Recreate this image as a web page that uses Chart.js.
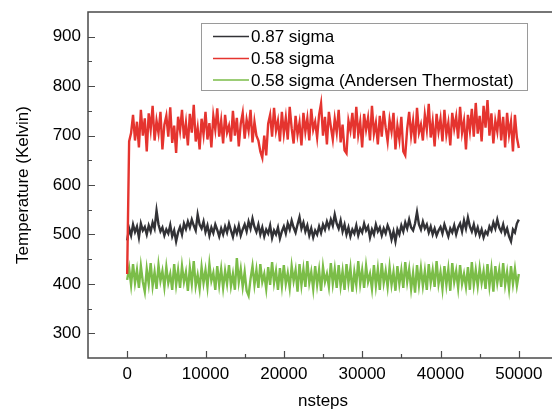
<!DOCTYPE html>
<html>
<head>
<meta charset="utf-8">
<script src="https://cdn.jsdelivr.net/npm/chart.js@4/dist/chart.umd.min.js"></script>
<style>
    html, body { margin: 0; padding: 0; background: #fff; overflow: hidden; }
    #wrap { width: 560px; height: 410px; }
</style>
</head>
<body>
<div id="wrap"><canvas id="temp-chart" width="560" height="410"></canvas></div>
<script>
// sampling interval of the runs (nsteps between stored points)
const stepEvery = 250;

const seriesLabels = ['0.87 sigma', '0.58 sigma', '0.58 sigma (Andersen Thermostat)'];
const seriesColors = ['#323236', '#e5342f', '#7bbd48'];

const temp087 = [
    488, 512, 498, 520, 505, 516, 494, 522, 508, 515,
    500, 518, 506, 524, 512, 548, 520, 506, 514, 498,
    510, 502, 519, 496, 508, 486, 504, 515, 500, 522,
    511, 526, 514, 530, 518, 508, 540, 520, 512, 526,
    505, 518, 498, 514, 503, 520, 509, 496, 512, 500,
    516, 504, 522, 508, 495, 514, 502, 518, 498, 510,
    520, 506, 526, 512, 532, 515, 505, 520, 500, 514,
    496, 510, 502, 518, 493, 508, 500, 514, 492, 506,
    516, 502, 522, 510, 528, 514, 504, 520, 535, 512,
    524, 506, 518, 498, 512, 494, 508, 500, 516, 503,
    520, 510, 526, 514, 530, 518, 540, 522, 512, 528,
    506, 520, 500, 514, 496, 510, 502, 518, 498, 512,
    504, 522, 508, 516, 494, 510, 500, 520, 506, 514,
    498, 512, 502, 518, 508, 490, 506, 486, 510, 500,
    518, 506, 524, 512, 530, 514, 508, 522, 545, 520,
    510, 526, 512, 520, 504, 516, 500, 512, 498, 508,
    515, 502, 520, 508, 496, 512, 504, 518, 500, 514,
    522, 506, 528, 512, 534, 516, 506, 520, 502, 514,
    498, 510, 494, 506, 500, 516, 508, 524, 512, 530,
    514, 506, 520, 502, 512, 496, 486, 510, 504, 522,
    530
];

const temp058 = [
    420, 688, 705, 742, 690, 728, 676, 752, 700, 735,
    668, 745, 712, 760, 690, 730, 705, 748, 672, 722,
    740, 698, 757, 685, 720, 665, 738, 710, 752, 694,
    726, 680, 744, 706, 762, 688, 716, 672, 734, 702,
    748, 692, 725, 676, 740, 712, 755, 698, 730, 684,
    742, 706, 720, 688, 750, 700, 736, 678, 724, 746,
    694, 732, 710, 752, 686, 728, 700, 690, 668, 655,
    700, 660, 724, 742, 698, 756, 710, 730, 688, 748,
    704, 736, 692, 758, 715, 684, 740, 702, 726, 680,
    746, 708, 735, 690, 754, 712, 728, 696, 742, 765,
    700, 738, 682, 748, 718, 692, 734, 706, 752, 686,
    722, 670, 664, 730, 710, 746, 694, 758, 702, 728,
    676, 744, 712, 736, 690, 760, 704, 726, 682, 740,
    698, 750, 716, 688, 732, 708, 746, 672, 720, 692,
    738, 668, 660, 714, 748, 700, 730, 684, 756, 706,
    722, 690, 742, 712, 764, 696, 728, 678, 744, 708,
    734, 688, 752, 702, 726, 680, 746, 714, 738, 694,
    758, 706, 730, 672, 742, 710, 754, 698, 766, 704,
    740, 688, 760, 716, 772, 700, 745, 684, 730, 708,
    752, 690, 738, 676, 746, 702, 728, 668, 742, 696,
    675
];

const temp058Andersen = [
    408, 432, 398, 440, 402, 428, 392, 436, 404, 384,
    430, 400, 442, 396, 424, 390, 438, 406, 426, 394,
    434, 402, 420, 388, 440, 398, 428, 392, 436, 404,
    424, 386, 432, 400, 446, 396, 418, 390, 434, 402,
    428, 394, 440, 406, 422, 388, 436, 398, 430, 392,
    426, 400, 438, 396, 420, 388, 452, 404, 430, 394,
    424, 386, 376, 410, 436, 398, 428, 392, 440, 404,
    420, 390, 434, 398, 444, 402, 426, 388, 432, 396,
    438, 400, 422, 392, 436, 406, 428, 384, 440, 398,
    430, 394, 446, 402, 424, 390, 436, 398, 428, 386,
    434, 404, 420, 394, 442, 400, 430, 392, 438, 396,
    426, 388, 440, 402, 432, 384, 424, 398, 446, 400,
    428, 392, 436, 404, 420, 390, 438, 396, 430, 388,
    442, 402, 426, 394, 434, 398, 424, 386, 436, 400,
    428, 392, 444, 404, 430, 390, 422, 382, 438, 398,
    432, 396, 426, 388, 440, 402, 428, 394, 446, 400,
    424, 390, 436, 398, 430, 386, 442, 404, 426, 392,
    438, 400, 420, 394, 434, 388, 444, 398, 428, 396,
    432, 402, 426, 390, 440, 396, 430, 384, 436, 402,
    428, 394, 442, 398, 424, 390, 436, 400, 430, 396,
    420
];

const xTickValues = [0, 10000, 20000, 30000, 40000, 50000];
const xMinorValues = [5000, 15000, 25000, 35000, 45000];
const yTickValues = [300, 400, 500, 600, 700, 800, 900];
const yMinorValues = [350, 450, 550, 650, 750, 850];

const fontFamily = "'Liberation Sans', Arial, sans-serif";

function toPoints(values) {
    return values.map((t, i) => ({ x: i * stepEvery, y: t }));
}

// axis box, inward tick marks and the boxed legend
const framePlugin = {
    id: 'frame',
    afterDraw(chart) {
        const ctx = chart.ctx;
        const area = chart.chartArea;
        const xs = chart.scales.x;
        const ys = chart.scales.y;

        ctx.save();
        ctx.strokeStyle = '#4a4a4a';
        ctx.lineWidth = 1.5;
        ctx.strokeRect(area.left, area.top, area.right - area.left, area.bottom - area.top);

        ctx.lineWidth = 1.2;
        ctx.beginPath();
        xTickValues.forEach(v => {
            const px = Math.round(xs.getPixelForValue(v)) + 0.5;
            ctx.moveTo(px, area.bottom);
            ctx.lineTo(px, area.bottom - 7);
        });
        xMinorValues.forEach(v => {
            const px = Math.round(xs.getPixelForValue(v)) + 0.5;
            ctx.moveTo(px, area.bottom);
            ctx.lineTo(px, area.bottom - 4);
        });
        yTickValues.forEach(v => {
            const py = Math.round(ys.getPixelForValue(v)) + 0.5;
            ctx.moveTo(area.left, py);
            ctx.lineTo(area.left + 7, py);
        });
        yMinorValues.forEach(v => {
            const py = Math.round(ys.getPixelForValue(v)) + 0.5;
            ctx.moveTo(area.left, py);
            ctx.lineTo(area.left + 4, py);
        });
        ctx.stroke();

        // legend
        const boxLeft = 201.5, boxTop = 23.5, boxW = 326, boxH = 67;
        ctx.fillStyle = '#fff';
        ctx.fillRect(boxLeft, boxTop, boxW, boxH);
        ctx.strokeStyle = '#9a9a9a';
        ctx.lineWidth = 1;
        ctx.strokeRect(boxLeft, boxTop, boxW, boxH);

        ctx.font = '17px ' + fontFamily;
        ctx.textBaseline = 'middle';
        ctx.textAlign = 'left';
        const rows = [36.5, 58.5, 80];
        chart.data.datasets.forEach((ds, i) => {
            ctx.strokeStyle = ds.borderColor;
            ctx.lineWidth = 1.5;
            ctx.beginPath();
            ctx.moveTo(213, rows[i]);
            ctx.lineTo(249, rows[i]);
            ctx.stroke();
            ctx.fillStyle = '#000';
            ctx.fillText(ds.label, 251, rows[i] + 1);
        });
        ctx.restore();
    }
};

document.addEventListener('DOMContentLoaded', () => {
    const ctx = document.getElementById('temp-chart').getContext('2d');
    const seriesData = [temp087, temp058, temp058Andersen];

    new Chart(ctx, {
        type: 'line',
        data: {
            datasets: seriesData.map((vals, i) => ({
                label: seriesLabels[i],
                data: toPoints(vals),
                borderColor: seriesColors[i],
                borderWidth: 2.4,
                borderJoinStyle: 'miter',
                pointRadius: 0,
                fill: false,
                tension: 0,
                order: i === 1 ? 0 : (i === 0 ? 1 : 2)
            }))
        },
        options: {
            responsive: false,
            animation: false,
            devicePixelRatio: 1,
            layout: { padding: { left: 0, top: 12, right: 2, bottom: 0 } },
            plugins: {
                legend: { display: false },
                tooltip: { enabled: false }
            },
            scales: {
                x: {
                    type: 'linear',
                    min: -5000,
                    max: 55000,
                    grid: { display: false, drawTicks: false },
                    border: { display: false },
                    afterBuildTicks: s => { s.ticks = xTickValues.map(v => ({ value: v })); },
                    afterFit: s => { s.height = 52; s.paddingLeft = 0; s.paddingRight = 0; },
                    ticks: {
                        padding: 6,
                        color: '#000',
                        font: { family: fontFamily, size: 17 },
                        maxRotation: 0,
                        callback: v => String(v)
                    },
                    title: {
                        display: true,
                        text: 'nsteps',
                        color: '#000',
                        font: { family: fontFamily, size: 17, lineHeight: 1 },
                        padding: { top: 0, bottom: 0 }
                    }
                },
                y: {
                    type: 'linear',
                    min: 250,
                    max: 950,
                    grid: { display: false, drawTicks: false },
                    border: { display: false },
                    afterBuildTicks: s => { s.ticks = yTickValues.map(v => ({ value: v })); },
                    afterFit: s => { s.width = 88; s.paddingTop = 0; s.paddingBottom = 0; },
                    ticks: {
                        padding: 7,
                        color: '#000',
                        font: { family: fontFamily, size: 17 }
                    },
                    title: {
                        display: true,
                        text: 'Temperature (Kelvin)',
                        color: '#000',
                        font: { family: fontFamily, size: 17, lineHeight: 1 },
                        padding: { top: 14.5, bottom: 0 }
                    }
                }
            }
        },
        plugins: [framePlugin]
    });
});
</script>
</body>
</html>
